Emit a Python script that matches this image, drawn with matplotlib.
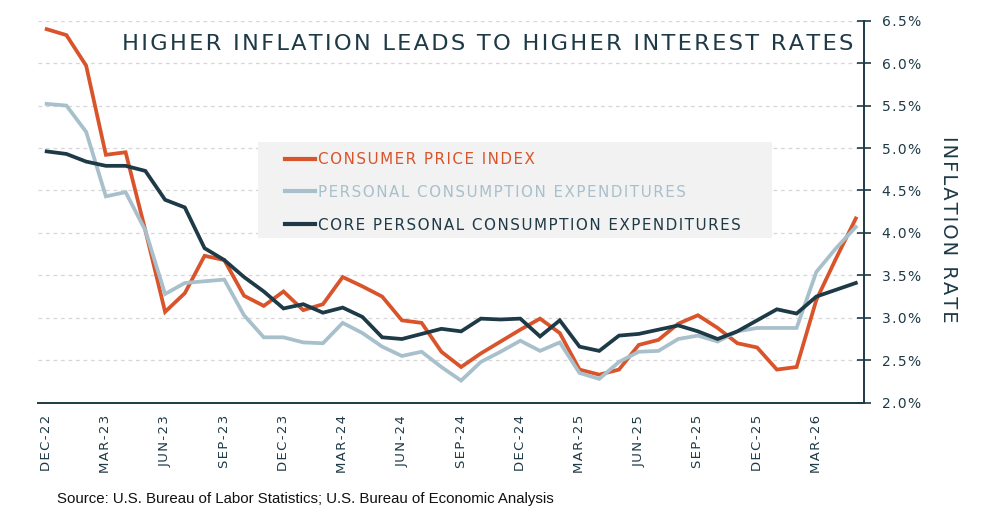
import numpy as np
import matplotlib
matplotlib.use('Agg')
import matplotlib.pyplot as plt
from matplotlib.patches import Rectangle

# monthly readings, Dec-22 .. May-26
months = ['DEC-22', 'JAN-23', 'FEB-23', 'MAR-23', 'APR-23', 'MAY-23', 'JUN-23', 'JUL-23',
          'AUG-23', 'SEP-23', 'OCT-23', 'NOV-23', 'DEC-23', 'JAN-24', 'FEB-24', 'MAR-24',
          'APR-24', 'MAY-24', 'JUN-24', 'JUL-24', 'AUG-24', 'SEP-24', 'OCT-24', 'NOV-24',
          'DEC-24', 'JAN-25', 'FEB-25', 'MAR-25', 'APR-25', 'MAY-25', 'JUN-25', 'JUL-25',
          'AUG-25', 'SEP-25', 'OCT-25', 'NOV-25', 'DEC-25', 'JAN-26', 'FEB-26', 'MAR-26',
          'APR-26', 'MAY-26']

cpi = [6.40, 6.33, 5.97, 4.92, 4.95, 4.03, 3.07, 3.29, 3.73, 3.68, 3.26, 3.14, 3.31, 3.09,
       3.16, 3.48, 3.37, 3.25, 2.97, 2.94, 2.60, 2.42, 2.58, 2.72, 2.86, 2.99, 2.82, 2.39,
       2.33, 2.39, 2.68, 2.74, 2.93, 3.03, 2.88, 2.70, 2.65, 2.39, 2.42, 3.21, 3.70, 4.17]

pce = [5.52, 5.50, 5.19, 4.43, 4.48, 4.03, 3.28, 3.41, 3.43, 3.45, 3.03, 2.77, 2.77, 2.71,
       2.70, 2.94, 2.82, 2.66, 2.55, 2.60, 2.42, 2.26, 2.48, 2.60, 2.73, 2.61, 2.71, 2.35,
       2.28, 2.48, 2.60, 2.61, 2.75, 2.79, 2.72, 2.84, 2.88, 2.88, 2.88, 3.54, 3.82, 4.07]

core_pce = [4.96, 4.93, 4.84, 4.79, 4.79, 4.73, 4.39, 4.30, 3.82, 3.68, 3.48, 3.31, 3.11, 3.16,
            3.06, 3.12, 3.01, 2.77, 2.75, 2.81, 2.87, 2.84, 2.99, 2.98, 2.99, 2.78, 2.97, 2.66,
            2.61, 2.79, 2.81, 2.86, 2.91, 2.84, 2.75, 2.84, 2.97, 3.10, 3.05, 3.25, 3.33, 3.41]

series_names = ['CONSUMER PRICE INDEX', 'PERSONAL CONSUMPTION EXPENDITURES',
                'CORE PERSONAL CONSUMPTION EXPENDITURES']
colors = ['#d9542a', '#a8c0cb', '#1d3a46']
dark = '#1d3a46'

HS = '\u200a'  # hair space, used as letter spacing


def spaced(s):
    return HS.join(s)


x = np.arange(len(months))

fig = plt.figure(figsize=(10.05, 5.22), dpi=100)
ax = fig.add_axes([0.0378, 0.2286, 0.822, 0.7318])

for vals, name, c in zip([cpi, pce, core_pce], series_names, colors):
    ax.plot(x, vals, color=c, lw=2.7, label=spaced(name), zorder=3, solid_joinstyle='miter')

ax.set_xlim(-0.44, 41.42)
ax.set_ylim(2.0, 6.5)
ax.set_yticks(np.arange(2.0, 6.51, 0.5))
ax.set_yticklabels([spaced('%.1f%%' % v) for v in np.arange(2.0, 6.51, 0.5)])
ax.yaxis.tick_right()
ax.yaxis.set_label_position('right')
ax.tick_params(axis='y', direction='inout', length=10, width=1.2, color=dark,
               labelcolor=dark, labelsize=10, pad=8)

# quarterly ticks
qt = x[::3]
ax.set_xticks(qt)
ax.set_xticklabels([spaced(months[i]) for i in qt], rotation=90, fontsize=9.5, color=dark)
ax.tick_params(axis='x', length=0, pad=9)

for s in ['top', 'left']:
    ax.spines[s].set_visible(False)
for s in ['right', 'bottom']:
    ax.spines[s].set_color(dark)
    ax.spines[s].set_linewidth(1.4)

ax.set_axisbelow(True)
ax.yaxis.grid(True, linestyle=(0, (3, 3)), color='#d6d6d6', lw=0.9)

ax.set_ylabel(spaced('INFLATION RATE'), rotation=270, fontsize=14, color=dark,
              va='center', ha='center')
ax.yaxis.set_label_coords(1.1017, 0.4547)

# legend box
box = Rectangle((0.2567, 0.544), 0.5114, 0.1839, transform=fig.transFigure,
                facecolor='#f2f2f2', edgecolor='none', zorder=1)
ax.add_patch(box)
leg = ax.legend(loc='upper left', bbox_to_anchor=(0.2836, 0.709),
                bbox_transform=fig.transFigure, frameon=False, fontsize=10.9,
                handlelength=2.0, handletextpad=0.2, labelspacing=1.18,
                borderpad=0, borderaxespad=0, labelcolor='linecolor')
for h in leg.get_lines():
    h.set_linewidth(3)

fig.text(0.121, 0.915, spaced('HIGHER INFLATION LEADS TO HIGHER INTEREST RATES'),
         fontsize=16.2, color=dark, ha='left', va='center')

fig.text(0.057, 0.044, 'Source: U.S. Bureau of Labor Statistics; U.S. Bureau of Economic Analysis',
         fontsize=10.8, family='Liberation Sans', color='#111111', ha='left', va='center')

fig.savefig('out.png', dpi=100)
